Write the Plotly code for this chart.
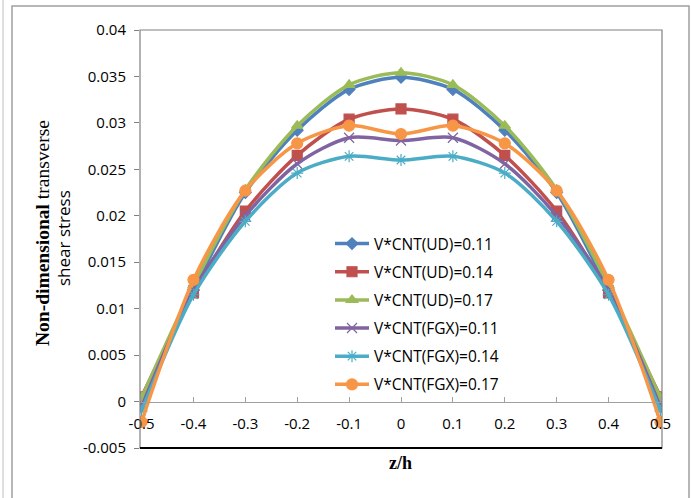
import plotly.graph_objects as go

z = [-0.5, -0.4, -0.3, -0.2, -0.1, 0, 0.1, 0.2, 0.3, 0.4, 0.5]
x_labels = ["-0.5", "-0.4", "-0.3", "-0.2", "-0.1", "0", "0.1", "0.2", "0.3", "0.4", "0.5"]
y_ticks = [-0.005, 0, 0.005, 0.01, 0.015, 0.02, 0.025, 0.03, 0.035, 0.04]
y_labels = ["-0.005", "0", "0.005", "0.01", "0.015", "0.02", "0.025", "0.03", "0.035", "0.04"]

ud_011 = [0.0002, 0.0120, 0.0225, 0.0292, 0.0336, 0.0349, 0.0336, 0.0292, 0.0225, 0.0120, 0.0002]
ud_014 = [0.0005, 0.0117, 0.0205, 0.0265, 0.0304, 0.0315, 0.0304, 0.0265, 0.0205, 0.0117, 0.0005]
ud_017 = [0.0004, 0.0125, 0.0228, 0.0297, 0.0341, 0.0354, 0.0341, 0.0297, 0.0228, 0.0125, 0.0004]
fgx_011 = [-0.0006, 0.0120, 0.0200, 0.0256, 0.0284, 0.0281, 0.0284, 0.0256, 0.0200, 0.0120, -0.0006]
fgx_014 = [-0.0010, 0.0115, 0.0194, 0.0246, 0.0264, 0.0260, 0.0264, 0.0246, 0.0194, 0.0115, -0.0010]
fgx_017 = [-0.0022, 0.0131, 0.0227, 0.0278, 0.0297, 0.0288, 0.0297, 0.0278, 0.0227, 0.0131, -0.0022]

series = [
    ("V*CNT(UD)=0.11", ud_011, "#4F81BD", "diamond", 9),
    ("V*CNT(UD)=0.14", ud_014, "#C0504D", "square", 10),
    ("V*CNT(UD)=0.17", ud_017, "#9BBB59", "triangle-up", 10),
    ("V*CNT(FGX)=0.11", fgx_011, "#8064A2", "x-thin-open", 10),
    ("V*CNT(FGX)=0.14", fgx_014, "#4BACC6", "asterisk-open", 10),
    ("V*CNT(FGX)=0.17", fgx_017, "#F79646", "circle", 11),
]

fig = go.Figure()
for i, (name, vals, col, sym, sz) in enumerate(series):
    fig.add_trace(go.Scatter(
        x=z, y=vals, name=name, mode="lines+markers",
        line=dict(color=col, width=3.5, shape="spline", smoothing=0.8),
        marker=dict(symbol=sym, size=sz, color=col, line=dict(color=col, width=1.2)),
        legendgroup=str(i),
    ))

L, R, T, B = 140, 662, 30, 448
W, H = 691, 498
def px(x):
    return (x - L) / (R - L)
def py(y):
    return (B - y) / (B - T)

fig.update_layout(
    width=W, height=H,
    margin=dict(l=L, r=W - R, t=T, b=H - B),
    paper_bgcolor="white", plot_bgcolor="white",
    font=dict(family="Open Sans, Liberation Sans, sans-serif", size=15, color="black"),
    showlegend=True,
    legend=dict(
        x=px(330), y=py(227), xanchor="left", yanchor="top",
        bgcolor="rgba(0,0,0,0)", tracegroupgap=5, traceorder="grouped",
        font=dict(size=15.5, color="black"), itemwidth=34,
    ),
    xaxis=dict(
        range=[-0.503, 0.503], tickmode="array", tickvals=z, ticktext=x_labels,
        anchor="free", position=0.111, showline=True, linecolor="#A0A0A0", linewidth=1,
        ticks="inside", ticklen=5, tickcolor="#A0A0A0", showgrid=False, zeroline=False,
        ticklabelstandoff=8, tickfont=dict(size=15, color="black"),
    ),
    yaxis=dict(
        range=[-0.005, 0.04], tickmode="array", tickvals=y_ticks, ticktext=y_labels,
        showgrid=False, zeroline=False,
        showline=False, ticks="outside", ticklen=5, tickcolor="#808080",
        ticklabelstandoff=5, tickfont=dict(size=15, color="black"),
    ),
    shapes=[
        dict(type="rect", xref="paper", yref="paper", x0=0, x1=1, y0=0, y1=1,
             line=dict(color="#808080", width=1.2)),
        dict(type="line", xref="paper", yref="paper", x0=0, x1=1, y0=0, y1=0,
             line=dict(color="black", width=2)),
        dict(type="rect", xref="paper", yref="paper", x0=px(12), x1=px(689), y0=py(6), y1=py(510),
             line=dict(color="#A0A0A0", width=1.5)),
        dict(type="line", xref="paper", yref="paper", x0=px(3), x1=px(3), y0=py(0), y1=py(498),
             line=dict(color="#C0C0C0", width=1)),
    ],
    annotations=[
        dict(text="<b>z/h</b>", xref="paper", yref="paper", x=px(400), y=py(463),
             xanchor="center", yanchor="middle",
             showarrow=False, font=dict(family="Liberation Serif, serif", size=18, color="black")),
        dict(text="<b>Non-dimensional</b> transverse", xref="paper", yref="paper",
             x=px(42), y=py(233), textangle=-90, showarrow=False,
             xanchor="center", yanchor="middle",
             font=dict(family="Liberation Serif, serif", size=19.5, color="black")),
        dict(text="shear stress", xref="paper", yref="paper",
             x=px(63), y=py(238), textangle=-90, showarrow=False,
             xanchor="center", yanchor="middle",
             font=dict(family="Open Sans, sans-serif", size=17, color="black")),
    ],
)

fig.write_html("out.html")
